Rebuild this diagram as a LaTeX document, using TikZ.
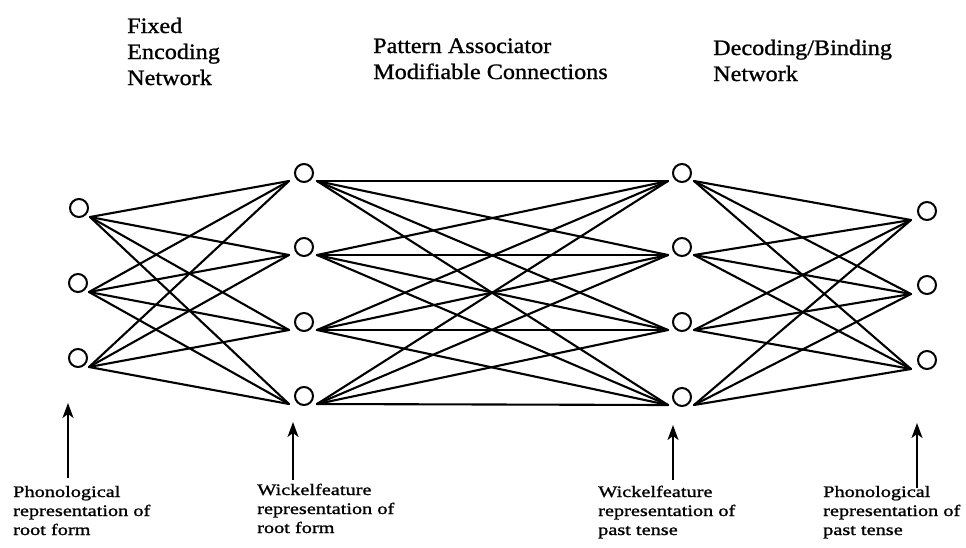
\documentclass[tikz,border=0pt]{standalone}
\usepackage{fontspec}
\setmainfont{Liberation Serif}
\newfontfamily\headfont[FakeStretch=1.1,FakeBold=1]{Liberation Serif}
\newfontfamily\labfont[FakeStretch=1.27,FakeBold=1.2]{Liberation Serif}
\usetikzlibrary{arrows.meta}
\begin{document}
\begin{tikzpicture}[x=1pt,y=-1pt,
  unit/.style={circle,draw,fill=white,line width=2pt,minimum size=18pt,inner sep=0pt},
  link/.style={line width=2.1pt,line cap=round},
  uparrow/.style={line width=1.8pt,-{Stealth[length=15pt,width=11pt,inset=4pt]}},
  head/.style={anchor=base west,inner sep=0pt,font=\headfont\fontsize{22}{26}\selectfont},
  lab/.style={anchor=base west,inner sep=0pt,font=\labfont\fontsize{16}{19}\selectfont}]
\useasboundingbox (0,0) rectangle (966,547);

% units
\node[unit] (a1) at (79,208) {};
\node[unit] (a2) at (78,283) {};
\node[unit] (a3) at (78,358) {};
\node[unit] (b1) at (304,173) {};
\node[unit] (b2) at (304,247) {};
\node[unit] (b3) at (304,322) {};
\node[unit] (b4) at (304,396) {};
\node[unit] (c1) at (682,173) {};
\node[unit] (c2) at (682,247) {};
\node[unit] (c3) at (682,322) {};
\node[unit] (c4) at (682,397) {};
\node[unit] (d1) at (927,211) {};
\node[unit] (d2) at (927,285) {};
\node[unit] (d3) at (927,360) {};

% attachment points
\foreach \i in {1,2,3}{
  \coordinate (aR\i) at ([shift={(11,9)}]a\i.center);
  \coordinate (dL\i) at ([shift={(-16,9)}]d\i.center);
}
\foreach \i in {1,2,3,4}{
  \coordinate (bL\i) at ([shift={(-15,8)}]b\i.center);
  \coordinate (bR\i) at ([shift={(13,8)}]b\i.center);
  \coordinate (cL\i) at ([shift={(-14,8)}]c\i.center);
  \coordinate (cR\i) at ([shift={(12,8)}]c\i.center);
}

% connections
\foreach \i in {1,2,3}{\foreach \j in {1,2,3,4}{
  \draw[link] (aR\i) -- (bL\j);
  \draw[link] (cR\j) -- (dL\i);
}}
\foreach \i in {1,2,3,4}{\foreach \j in {1,2,3,4}{
  \draw[link] (bR\i) -- (cL\j);
}}

% headings
\node[head] (h1) at (127,33) {\begin{tabular}[t]{@{}l@{}}Fixed\\Encoding\\Network\end{tabular}};
\node[head] (h2) at (373,53) {\begin{tabular}[t]{@{}l@{}}Pattern Associator\\Modifiable Connections\end{tabular}};
\node[head] (h3) at (713,55) {\begin{tabular}[t]{@{}l@{}}Decoding/Binding\\Network\end{tabular}};

% bottom labels
\node[lab] (l1) at (13,497) {\begin{tabular}[t]{@{}l@{}}Phonological\\representation of\\root form\end{tabular}};
\node[lab] (l2) at (257,495) {\begin{tabular}[t]{@{}l@{}}Wickelfeature\\representation of\\root form\end{tabular}};
\node[lab] (l3) at (598,497) {\begin{tabular}[t]{@{}l@{}}Wickelfeature\\representation of\\past tense\end{tabular}};
\node[lab] (l4) at (823,497) {\begin{tabular}[t]{@{}l@{}}Phonological\\representation of\\past tense\end{tabular}};

% arrows
\coordinate (p1) at (68,478);  \coordinate (q1) at (68,403);
\coordinate (p2) at (293,480); \coordinate (q2) at (293,422);
\coordinate (p3) at (673,480); \coordinate (q3) at (673,425);
\coordinate (p4) at (917,488); \coordinate (q4) at (917,423);
\foreach \k in {1,2,3,4}{\draw[uparrow] (p\k) -- (q\k);}
\end{tikzpicture}
\end{document}
